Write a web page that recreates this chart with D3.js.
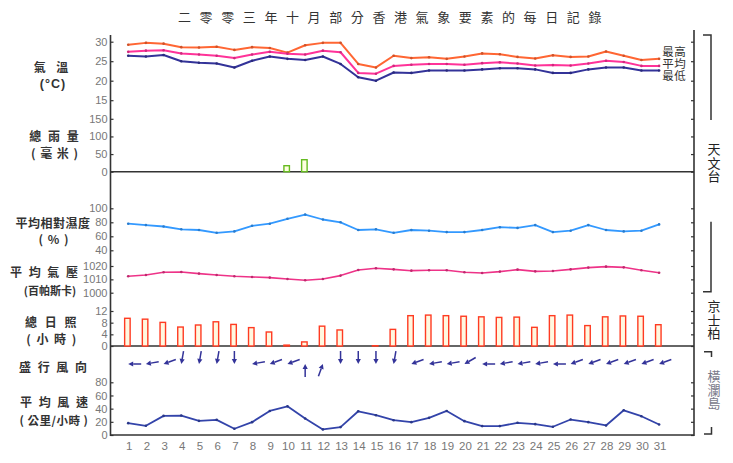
<!DOCTYPE html>
<html><head><meta charset="utf-8">
<script src="https://cdn.jsdelivr.net/npm/d3@7"></script>
<style>
body{margin:0;background:#fff;}
svg{display:block;}
</style></head>
<body>
<script>
// ---------- data ----------
const days = [1,2,3,4,5,6,7,8,9,10,11,12,13,14,15,16,17,18,19,20,21,22,23,24,25,26,27,28,29,30,31];
const tempMax  = [29.2,29.7,29.5,28.6,28.5,28.7,27.9,28.6,28.4,27.2,29.1,29.7,29.7,24.3,23.4,26.4,25.8,26.0,25.6,26.2,27.0,26.8,26.1,25.7,26.5,26.1,26.2,27.5,26.4,25.3,25.6];
const tempMean = [27.4,27.7,27.8,27.0,26.7,26.4,25.8,26.7,27.4,26.9,26.7,27.7,27.3,22.0,21.8,23.8,24.1,24.3,24.3,24.1,24.5,24.7,24.4,23.9,24.0,23.9,24.4,25.1,24.8,23.8,23.8];
const tempMin  = [26.4,26.2,26.6,25.0,24.6,24.4,23.4,25.1,26.2,25.6,25.3,26.2,24.3,20.9,20.0,22.1,22.0,22.6,22.6,22.6,22.9,23.2,23.2,22.9,22.0,22.0,22.9,23.4,23.4,22.6,22.6];
const rainfall = [0,0,0,0,0,0,0,0,0,17,34,0,0,0,0,0,0,0,0,0,0,0,0,0,0,0,0,0,0,0,0];
const humidity = [78,76,74,70,69,65,67,75,78,85,91,84,80,69,70,65,69,68,66,66,69,73,72,76,66,68,76,69,67,68,77];
const pressure = [1012.3,1013.3,1015.3,1015.5,1014.3,1013.3,1012.3,1011.8,1011.3,1010.3,1009.3,1010.3,1012.8,1017.0,1018.3,1017.5,1016.5,1016.8,1016.8,1015.3,1014.8,1015.8,1017.3,1016.0,1016.3,1017.5,1018.8,1019.5,1019.0,1016.8,1015.0];
const sunshine = [9.5,9.2,8.1,6.5,7.2,8.3,7.4,6.3,4.8,0.3,1.4,6.8,5.5,0,0.1,5.7,10.4,10.6,10.4,10.2,10.0,9.8,9.9,6.4,10.4,10.6,7.0,10.0,10.3,10.2,7.3];
const windDir  = [90,80,70,10,10,10,360,80,70,70,180,200,360,360,360,10,70,80,80,60,90,80,80,80,90,70,70,70,70,70,70];
const windSpeed= [18,14,29,29.5,21.5,23,9.5,19.5,36.5,43.5,25,8.5,12,36,30,22.5,19.5,26,36.5,21,13.5,13.5,18.5,16.5,12.5,23.5,19.5,14.5,37.5,28.5,16];

const tempTicks = [15,20,25,30];
const rainTicks = [0,50,100,150];
const humTicks = [40,60,80,100];
const presTicks = [1000,1010,1020];
const sunTicks = [0,4,8,12];
const windTicks = [0,20,40,60,80];

const title = "二零零三年十月部分香港氣象要素的每日記錄";
const tempLegend = ["最高","平均","最低"];
const stations = ["天文台","京士柏","橫瀾島"];

// ---------- layout ----------
const W = 733, H = 463;
const L = 110.5, R = 694, TOP = 35, BOT = 435;
const svg = d3.select("body").append("svg").attr("width", W).attr("height", H);

const x = d3.scaleLinear().domain([0, 33]).range([L, R + 0.5]);
const yT = d3.scaleLinear().domain([15, 30]).range([100.2, 41.7]);
const yRain = d3.scaleLinear().domain([0, 150]).range([171.7, 118.8]);
const yH = d3.scaleLinear().domain([40, 100]).range([250.3, 208.3]);
const yP = d3.scaleLinear().domain([1000, 1020]).range([292.7, 266]);
const yS = d3.scaleLinear().domain([0, 12]).range([346, 311]);
const yW = d3.scaleLinear().domain([0, 80]).range([435, 382.3]);

const cjk = "'Noto Sans CJK TC','Noto Sans CJK SC',sans-serif";
const num = "'Liberation Sans',Arial,sans-serif";

// title
svg.append("text").attr("x", 394).attr("y", 22).attr("text-anchor", "middle")
  .attr("font-family", cjk).attr("font-size", 13).attr("letter-spacing", 8.6)
  .attr("fill", "#333").text(title);

// ---------- axes ----------
function leftAxis(scale, ticks) {
  const g = svg.append("g").attr("transform", `translate(${L},0)`)
    .call(d3.axisLeft(scale).tickValues(ticks).tickFormat(d3.format("d"))
      .tickSizeInner(-3).tickSizeOuter(0).tickPadding(3));
  g.select(".domain").remove();
  g.selectAll("line").attr("stroke", "#333").attr("stroke-width", 1.2);
  g.selectAll("text").attr("font-family", num).attr("font-size", 11).attr("fill", "#777");
}
function rightAxis(scale, ticks) {
  const g = svg.append("g").attr("transform", `translate(${R},0)`)
    .call(d3.axisRight(scale).tickValues(ticks).tickSizeInner(-3).tickSizeOuter(0).tickFormat(""));
  g.select(".domain").remove();
  g.selectAll("line").attr("stroke", "#333").attr("stroke-width", 1.2);
}
[[yT,tempTicks],[yRain,rainTicks],[yH,humTicks],[yP,presTicks],[yS,sunTicks],[yW,windTicks]]
  .forEach(([s,t]) => { leftAxis(s,t); rightAxis(s,t); });

// frame lines
const frame = svg.append("g").attr("stroke", "#333").attr("stroke-width", 1.6).attr("fill", "none");
frame.append("line").attr("x1", L).attr("x2", L).attr("y1", TOP).attr("y2", BOT + 1);
frame.append("line").attr("x1", R).attr("x2", R).attr("y1", 30).attr("y2", BOT + 1);
frame.append("line").attr("x1", L).attr("x2", R).attr("y1", yRain(0)).attr("y2", yRain(0));
frame.append("line").attr("x1", L).attr("x2", R).attr("y1", yS(0)).attr("y2", yS(0));
frame.append("line").attr("x1", L).attr("x2", R).attr("y1", BOT).attr("y2", BOT);

// x labels
const xa = svg.append("g").attr("transform", `translate(0.5,${BOT + 4})`)
  .call(d3.axisBottom(x).tickValues(days).tickSize(0).tickPadding(3));
xa.select(".domain").remove();
xa.selectAll("text").attr("font-family", num).attr("font-size", 11.5).attr("fill", "#777");

// ---------- lines ----------
function drawLine(data, yScale, color, width) {
  const pts = days.map((d,i) => [x(d), yScale(data[i])]);
  svg.append("path").datum(pts).attr("fill", "none").attr("stroke", color)
    .attr("stroke-width", width).attr("stroke-linejoin", "round").attr("d", d3.line());
  svg.append("g").selectAll("circle").data(pts).join("circle")
    .attr("cx", p => p[0]).attr("cy", p => p[1]).attr("r", 1.3).attr("fill", d3.color(color).darker(0.6));
}
drawLine(tempMax, yT, "#ff6633", 2);
drawLine(tempMean, yT, "#ff3399", 2);
drawLine(tempMin, yT, "#333399", 2);
drawLine(humidity, yH, "#3399ff", 1.8);
drawLine(pressure, yP, "#ee3388", 1.6);
drawLine(windSpeed, yW, "#3344aa", 1.8);

// temperature legend: drawn as two vertical columns of characters
[0,1].forEach(col => {
  svg.append("text").attr("x", 668 + col * 12).attr("y", 46)
    .style("writing-mode", "vertical-rl").style("text-orientation", "upright")
    .attr("font-family", cjk).attr("font-size", 11.5).attr("letter-spacing", 0.2)
    .attr("fill", "#333").text(tempLegend.map(s => s[col]).join(""));
});

// ---------- bars ----------
const bw = 5.5;
svg.append("g").selectAll("rect").data(days.filter((d,i) => rainfall[i] > 0)).join("rect")
  .attr("x", d => x(d) - 0.8 - bw/2).attr("width", bw)
  .attr("y", d => yRain(rainfall[d-1])).attr("height", d => yRain(0) - yRain(rainfall[d-1]))
  .attr("fill", "#ffffe0").attr("stroke", "#66bb22").attr("stroke-width", 1.4);

svg.append("g").selectAll("rect").data(days.filter((d,i) => sunshine[i] > 0)).join("rect")
  .attr("x", d => x(d) - 0.8 - bw/2).attr("width", bw)
  .attr("y", d => yS(sunshine[d-1])).attr("height", d => yS(0) - yS(sunshine[d-1]))
  .attr("fill", "#fff8e0").attr("stroke", "#ff3b22").attr("stroke-width", 1.4);

// ---------- wind direction arrows ----------
const arrowY = 364, arrowLen = 13;
const ag = svg.append("g");
days.forEach((d,i) => {
  const t = (windDir[i] + 180) * Math.PI / 180;
  const vx = Math.sin(t), vy = -Math.cos(t);
  const tx = x(d), ty = arrowY;
  const sx = tx - arrowLen * vx, sy = ty - arrowLen * vy;
  const hl = 5, hw = 2.6;
  const bx = tx - hl * vx, by = ty - hl * vy;
  ag.append("line").attr("x1", sx).attr("y1", sy).attr("x2", bx).attr("y2", by)
    .attr("stroke", "#333399").attr("stroke-width", 1.5);
  ag.append("path").attr("d", `M${tx},${ty}L${bx - hw*vy},${by + hw*vx}L${bx + hw*vy},${by - hw*vx}Z`)
    .attr("fill", "#333399");
});

// ---------- left labels ----------
const labels = [
  ["氣 溫", 53, 71.5, 12, 4, cjk],
  ["(°C)", 53, 87.5, 12.5, 1, num],
  ["總 雨 量", 55, 141, 12, 2, cjk],
  ["( 毫 米 )", 55, 158, 12, 1, cjk],
  ["平均相對濕度", 53, 228, 12, 0.5, cjk],
  ["( % )", 54, 244, 12, 1, cjk],
  ["平 均 氣 壓", 45, 277, 12, 2, cjk],
  ["(百帕斯卡)", 50, 295, 11, 0, cjk],
  ["總 日 照", 52, 327, 12, 2.5, cjk],
  ["( 小 時 )", 52, 344, 12, 1.5, cjk],
  ["盛 行 風 向", 54, 372, 12, 2, cjk],
  ["平 均 風 速", 55, 407, 12, 2, cjk],
  ["( 公里/小時 )", 54, 425, 11.5, 0.5, cjk]
];
labels.forEach(([t, cx, by, fs, ls, ff]) => {
  svg.append("text").attr("x", cx).attr("y", by).attr("text-anchor", "middle")
    .attr("font-family", ff).attr("font-size", fs).attr("font-weight", "bold")
    .attr("letter-spacing", ls).attr("fill", "#333").text(t);
});

// ---------- right station labels (vertical text) ----------
function vText(str, cx, yTop, color) {
  svg.append("text").attr("x", cx).attr("y", yTop)
    .style("writing-mode", "vertical-rl").style("text-orientation", "upright")
    .attr("font-family", cjk).attr("font-size", 13).attr("letter-spacing", 0.5)
    .attr("fill", color).text(str);
}
vText(stations[0], 714, 143, "#222");
vText(stations[1], 714, 300, "#222");
vText(stations[2], 714, 370, "#7a7a8a");

const br = svg.append("g").attr("stroke", "#333").attr("stroke-width", 1.5).attr("fill", "none");
br.append("path").attr("d", "M703,35H711V120");
br.append("path").attr("d", "M711,221.7V291.7H703");
br.append("path").attr("d", "M704,351.7H711.5V357");
br.append("path").attr("d", "M711.5,427V434H704");
</script>
</body></html>
